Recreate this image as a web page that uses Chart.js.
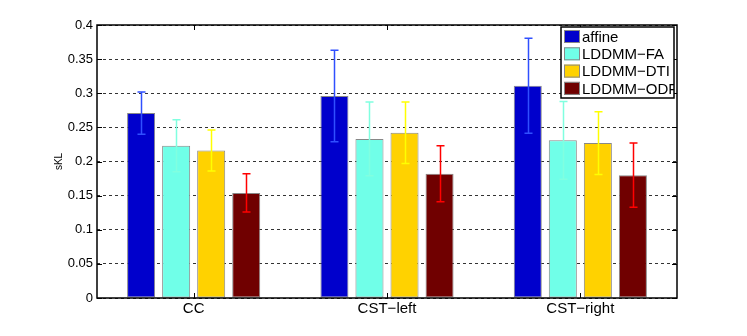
<!DOCTYPE html>
<html>
<head>
<meta charset="utf-8">
<script src="https://cdn.jsdelivr.net/npm/chart.js@4.4.0/dist/chart.umd.min.js"></script>
<style>
  html, body { margin: 0; padding: 0; background: #fff; }
  #wrap { width: 747px; height: 336px; }
</style>
</head>
<body>
<div id="wrap"><canvas id="chart" width="747" height="336"></canvas></div>
<script>
// categories + series
const categories = ['CC', 'CST\u2212left', 'CST\u2212right'];
const seriesNames = ['affine', 'LDDMM\u2212FA', 'LDDMM\u2212DTI', 'LDDMM\u2212ODF'];

const affine = [0.271, 0.296, 0.311];
const lddmmFA = [0.223, 0.233, 0.231];
const lddmmDTI = [0.216, 0.242, 0.227];
const lddmmODF = [0.154, 0.182, 0.180];

// half length of the error bars
const affineErr = [0.031, 0.067, 0.0695];
const lddmmFAErr = [0.038, 0.054, 0.057];
const lddmmDTIErr = [0.030, 0.045, 0.046];
const lddmmODFErr = [0.028, 0.041, 0.047];

const yTicks = [0, 0.05, 0.1, 0.15, 0.2, 0.25, 0.3, 0.35, 0.4];

const barColors = ['#0000cc', '#70ffe8', '#ffd200', '#700000'];
const errColors = ['#3050ff', '#80ffe0', '#ffff00', '#ff0000'];

const values = [affine, lddmmFA, lddmmDTI, lddmmODF];
const errors = [affineErr, lddmmFAErr, lddmmDTIErr, lddmmODFErr];

const FONT = '"Liberation Sans", Arial, Helvetica, sans-serif';

// error bars on top of the bars
const errorBars = {
  id: 'errorBars',
  afterDatasetsDraw(chart) {
    const ctx = chart.ctx;
    const y = chart.scales.y;
    chart.data.datasets.forEach((ds, i) => {
      const meta = chart.getDatasetMeta(i);
      meta.data.forEach((bar, j) => {
        const v = ds.data[j];
        const e = errors[i][j];
        const top = y.getPixelForValue(v + e);
        const bot = y.getPixelForValue(v - e);
        const x = Math.round(bar.x) + 0.5;
        ctx.save();
        ctx.strokeStyle = errColors[i];
        ctx.lineWidth = 1.5;
        ctx.beginPath();
        ctx.moveTo(x, top); ctx.lineTo(x, bot);
        ctx.moveTo(x - 4, top); ctx.lineTo(x + 4, top);
        ctx.moveTo(x - 4, bot); ctx.lineTo(x + 4, bot);
        ctx.stroke();
        ctx.restore();
      });
    });
  }
};

// matlab style box, inward ticks, legend
const matlabBox = {
  id: 'matlabBox',
  afterDraw(chart) {
    const ctx = chart.ctx;
    const a = chart.chartArea;
    const ys = chart.scales.y, xs = chart.scales.x;
    ctx.save();
    ctx.strokeStyle = '#000';
    ctx.lineWidth = 1;
    ctx.beginPath();
    ys.ticks.forEach(t => {
      const py = Math.round(ys.getPixelForValue(t.value)) + 0.5;
      ctx.moveTo(a.left, py); ctx.lineTo(a.left + 5, py);
      ctx.moveTo(a.right, py); ctx.lineTo(a.right - 5, py);
    });
    categories.forEach((c, i) => {
      const px = Math.round(xs.getPixelForValue(i)) + 0.5;
      ctx.moveTo(px, a.bottom); ctx.lineTo(px, a.bottom - 5);
      ctx.moveTo(px, a.top); ctx.lineTo(px, a.top + 5);
    });
    ctx.stroke();
    ctx.lineWidth = 1.5;
    ctx.strokeRect(a.left, a.top, a.right - a.left, a.bottom - a.top);

    // legend
    const lx = 561, ly = 27, lw = 113, lh = 71;
    ctx.fillStyle = '#fff';
    ctx.fillRect(lx, ly, lw, lh);
    ctx.save();
    ctx.beginPath();
    ctx.rect(lx, ly, lw, lh);
    ctx.clip();
    ctx.font = '15px ' + FONT;
    ctx.textBaseline = 'middle';
    chart.data.datasets.forEach((ds, i) => {
      const ry = ly + 3 + i * 17.3;
      ctx.fillStyle = barColors[i];
      ctx.fillRect(lx + 3, ry, 16, 13);
      ctx.strokeStyle = '#888';
      ctx.lineWidth = 1;
      ctx.strokeRect(lx + 3.5, ry + 0.5, 15, 12);
      ctx.fillStyle = '#000';
      ctx.fillText(ds.label, lx + 21, ry + 7.5);
    });
    ctx.restore();
    ctx.strokeStyle = '#000';
    ctx.lineWidth = 1.5;
    ctx.strokeRect(lx, ly, lw, lh);
    ctx.restore();
  }
};

new Chart(document.getElementById('chart'), {
  type: 'bar',
  data: {
    labels: categories,
    datasets: seriesNames.map((name, i) => ({
      label: name,
      data: values[i],
      backgroundColor: barColors[i],
      borderColor: '#888',
      borderWidth: 1,
      borderSkipped: false,
      categoryPercentage: 0.725,
      barPercentage: 0.8
    }))
  },
  options: {
    responsive: false,
    animation: false,
    devicePixelRatio: 1,
    layout: { padding: { left: 0, top: 25, right: 70, bottom: 0 } },
    plugins: {
      legend: { display: false },
      tooltip: { enabled: false }
    },
    scales: {
      x: {
        grid: { display: false, drawTicks: false },
        border: { display: false },
        ticks: { color: '#000', font: { family: FONT, size: 15 }, padding: 2 },
        afterFit: s => { s.height = 38; }
      },
      y: {
        min: 0,
        max: 0.4,
        afterBuildTicks: s => { s.ticks = yTicks.map(v => ({ value: v })); },
        ticks: {
          color: '#000',
          font: { family: FONT, size: 13 },
          padding: 4,
          callback: v => String(+v.toFixed(2))
        },
        grid: { color: '#333', lineWidth: 1, drawTicks: false },
        border: { display: false, dash: [3, 3] },
        title: {
          display: true,
          text: 'sKL',
          color: '#000',
          font: { family: FONT, size: 10 },
          padding: { top: 53, bottom: 0 }
        },
        afterFit: s => { s.width = 97; }
      }
    }
  },
  plugins: [errorBars, matlabBox]
});
</script>
</body>
</html>
